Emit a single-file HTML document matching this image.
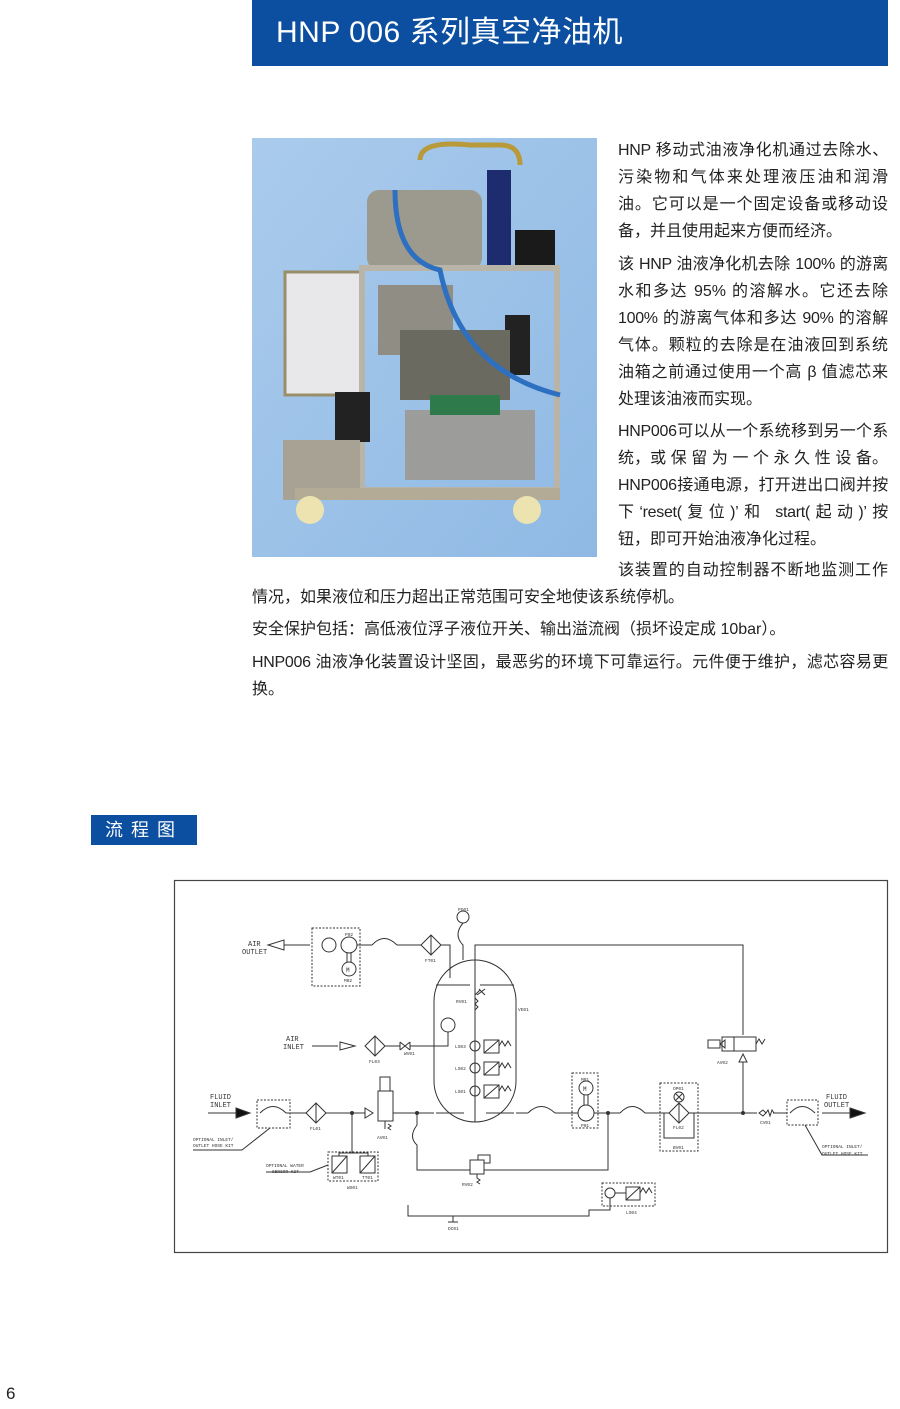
<!DOCTYPE html>
<html><head><meta charset="utf-8">
<style>
body{margin:0;width:900px;height:1409px;background:#fff;position:relative;overflow:hidden;font-family:"Liberation Sans","Noto Sans CJK SC",sans-serif;color:#222}
.t{position:absolute;font-size:16px;line-height:27px;white-space:nowrap}
.j{width:270px;text-align:justify;text-align-last:justify;white-space:normal;overflow:hidden;height:27px}
.w{width:636px}
.c{letter-spacing:-0.3px}
</style></head><body>
<div style="position:absolute;left:252px;top:0;width:636px;height:66px;background:#0c4fa0"></div>
<div style="position:absolute;left:276px;top:13px;color:#fff;font-size:30px;line-height:40px;white-space:nowrap;letter-spacing:0.5px">HNP 006 系列真空净油机</div>

<svg style="position:absolute;left:0;top:0" width="900" height="1409">
<defs><linearGradient id="bg" x1="0" y1="0" x2="1" y2="1"><stop offset="0" stop-color="#aacbec"/><stop offset="1" stop-color="#8fb9e4"/></linearGradient></defs>
<rect x="252" y="138" width="345" height="419" fill="url(#bg)"/>
<rect x="367" y="190" width="115" height="80" rx="12" fill="#9c9a8e"/>
<rect x="487" y="170" width="24" height="95" fill="#1d2c6e"/>
<rect x="515" y="230" width="40" height="40" fill="#1a1a1a"/>
<rect x="285" y="272" width="78" height="123" fill="#e8e8ea" stroke="#9a8e6a" stroke-width="3"/>
<rect x="362" y="268" width="195" height="222" fill="none" stroke="#b8b4a8" stroke-width="6"/>
<rect x="378" y="285" width="75" height="70" fill="#8f8d84"/>
<rect x="505" y="315" width="25" height="60" fill="#222"/>
<rect x="335" y="392" width="35" height="50" fill="#222"/>
<rect x="400" y="330" width="110" height="70" fill="#6b6a60"/>
<rect x="405" y="410" width="130" height="70" fill="#9c9c9a"/>
<rect x="430" y="395" width="70" height="20" fill="#2e7a4a"/>
<path d="M283 440 L360 440 L360 490 L560 490 L560 500 L283 500 Z" fill="#a8a294"/>
<rect x="295" y="488" width="265" height="12" fill="#b3ab96"/>
<circle cx="310" cy="510" r="14" fill="#ede3b0"/><circle cx="527" cy="510" r="14" fill="#ede3b0"/>
<path d="M395 190 Q395 260 440 270 Q460 370 560 395" fill="none" stroke="#2d6fc0" stroke-width="5"/>
<path d="M420 160 Q420 140 470 145 L500 145 Q520 145 520 165" fill="none" stroke="#b89a3a" stroke-width="5"/>
</svg>

<div class="t j c" style="left:618px;top:137px">HNP 移动式油液净化机通过去除水、</div>
<div class="t j" style="left:618px;top:164px">污染物和气体来处理液压油和润滑</div>
<div class="t j" style="left:618px;top:191px">油。它可以是一个固定设备或移动设</div>
<div class="t" style="left:618px;top:218px">备，并且使用起来方便而经济。</div>
<div class="t j c" style="left:618px;top:251px">该 HNP 油液净化机去除 100% 的游离</div>
<div class="t j" style="left:618px;top:278px">水和多达 95% 的溶解水。它还去除</div>
<div class="t j c" style="left:618px;top:305px">100% 的游离气体和多达 90% 的溶解</div>
<div class="t j" style="left:618px;top:332px">气体。颗粒的去除是在油液回到系统</div>
<div class="t j" style="left:618px;top:359px">油箱之前通过使用一个高 β 值滤芯来</div>
<div class="t" style="left:618px;top:386px">处理该油液而实现。</div>
<div class="t j c" style="left:618px;top:418px">HNP006可以从一个系统移到另一个系</div>
<div class="t j" style="left:618px;top:445px">统，或 保 留 为 一 个 永 久 性 设 备。</div>
<div class="t j c" style="left:618px;top:472px">HNP006接通电源，打开进出口阀并按</div>
<div class="t j c" style="left:618px;top:499px">下‘reset(复位)’和 start(起动)’按</div>
<div class="t" style="left:618px;top:526px">钮，即可开始油液净化过程。</div>
<div class="t j" style="left:618px;top:557px">该装置的自动控制器不断地监测工作</div>
<div class="t" style="left:252px;top:584px">情况，如果液位和压力超出正常范围可安全地使该系统停机。</div>
<div class="t" style="left:252px;top:616px">安全保护包括：高低液位浮子液位开关、输出溢流阀（损坏设定成 10bar）。</div>
<div class="t j w c" style="left:252px;top:649px">HNP006 油液净化装置设计坚固，最恶劣的环境下可靠运行。元件便于维护，滤芯容易更</div>
<div class="t" style="left:252px;top:676px">换。</div>

<div style="position:absolute;left:91px;top:815px;width:106px;height:30px;background:#0c4fa0;color:#fff;font-size:18px;line-height:30px;text-align:center;letter-spacing:8px">流程图</div>

<svg style="position:absolute;left:0;top:0" width="900" height="1409" font-family="Liberation Mono,monospace" font-size="5" fill="none" stroke="#333" stroke-width="1">
<rect x="174.5" y="880.5" width="713" height="372" stroke="#444" stroke-width="1.2"/>
<g fill="#333" stroke="none" font-size="7">
<text x="248" y="946">AIR</text><text x="242" y="954">OUTLET</text>
<text x="286" y="1041">AIR</text><text x="283" y="1049">INLET</text>
<text x="210" y="1099">FLUID</text><text x="210" y="1107">INLET</text>
<text x="826" y="1099">FLUID</text><text x="824" y="1107">OUTLET</text>
</g>
<g fill="#333" stroke="none" font-size="4.5">
<text x="345" y="936">P02</text><text x="344" y="982">M02</text><text x="425" y="962">FT01</text>
<text x="458" y="911">PG01</text><text x="456" y="1003">RV01</text><text x="518" y="1011">VE01</text>
<text x="455" y="1048">LS03</text><text x="455" y="1070">LS02</text><text x="455" y="1093">LS01</text>
<text x="369" y="1063">FL03</text><text x="404" y="1055">WV01</text>
<text x="310" y="1130">FL01</text><text x="377" y="1139">AV01</text>
<text x="193" y="1141">OPTIONAL INLET/</text><text x="193" y="1147">OUTLET HOSE KIT</text>
<text x="266" y="1167">OPTIONAL WATER</text><text x="272" y="1173">SENSOR KIT</text>
<text x="333" y="1179">WT01</text><text x="362" y="1179">TT01</text><text x="347" y="1189">WS01</text>
<text x="462" y="1186">RV02</text><text x="448" y="1230">DC01</text>
<text x="581" y="1081">M01</text><text x="581" y="1127">P01</text>
<text x="673" y="1090">OP01</text><text x="673" y="1129">FL02</text><text x="673" y="1149">BV01</text>
<text x="760" y="1124">CV01</text><text x="717" y="1064">AV02</text><text x="626" y="1214">LS04</text>
<text x="822" y="1148">OPTIONAL INLET/</text><text x="822" y="1155">OUTLET HOSE KIT</text>
</g>
<path d="M268 945 L284 940 L284 950 Z"/><path d="M284 945 H310"/>
<rect x="312" y="928" width="48" height="58" stroke-dasharray="2,1.5"/>
<circle cx="329" cy="945" r="7"/><circle cx="349" cy="945" r="8"/><circle cx="349" cy="969" r="7"/>
<path d="M347 953 V962 M351 953 V962"/><text x="346" y="972" fill="#333" stroke="none" font-size="6">M</text>
<path d="M357 945 H372 M397 945 H421"/><path d="M372 945 Q384 932 397 945"/>
<path d="M431 935 L441 945 L431 955 L421 945 Z M431 935 V955" />
<path d="M441 945 H450 V978"/>
<circle cx="463" cy="917" r="6"/><path d="M463 923 Q453 935 463 945 V960"/>
<path d="M475 1122 V945 H743 V1035"/>
<rect x="434" y="960" width="82" height="162" rx="41"/>
<path d="M436 985 H470 M480 985 H514 M436 1113 H464 M486 1113 H514"/>
<path d="M475 995 L480 990 M477 995 l8 -6 m0 6 l-6 -6"/>
<path d="M475 998 l3 3 l-3 3 l3 3 l-3 3"/>
<circle cx="448" cy="1025" r="7"/><path d="M448 1032 V1046 H410"/>
<g><circle cx="475" cy="1046" r="5"/><rect x="484" y="1040" width="15" height="13"/><path d="M484 1053 L499 1040 M499 1046 l3 -5 l3 5 l3 -5 l3 5"/></g>
<g><circle cx="475" cy="1068" r="5"/><rect x="484" y="1062" width="15" height="13"/><path d="M484 1075 L499 1062 M499 1068 l3 -5 l3 5 l3 -5 l3 5"/></g>
<g><circle cx="475" cy="1091" r="5"/><rect x="484" y="1085" width="15" height="13"/><path d="M484 1098 L499 1085 M499 1091 l3 -5 l3 5 l3 -5 l3 5"/></g>
<path d="M312 1046 H338 M340 1042 L355 1046 L340 1050 Z"/>
<path d="M375 1036 L385 1046 L375 1056 L365 1046 Z M375 1036 V1056 M385 1046 H400"/>
<path d="M400 1042 L410 1050 M400 1050 L410 1042 M400 1042 V1050 M410 1042 V1050"/>
<path d="M208 1113 H236"/><path d="M236 1108 L250 1113 L236 1118 Z" fill="#111"/>
<rect x="257" y="1100" width="33" height="28" stroke-dasharray="2,1.5"/>
<path d="M260 1113 Q273 1100 286 1113 M286 1113 H306 M326 1113 H365"/>
<path d="M316 1103 L326 1113 L316 1123 L306 1113 Z M316 1103 V1123"/>
<path d="M270 1128 L242 1150 H193"/>
<path d="M352 1113 V1153"/><rect x="328" y="1152" width="50" height="29" stroke-dasharray="2,1.5"/>
<rect x="332" y="1156" width="15" height="17"/><rect x="360" y="1156" width="15" height="17"/>
<path d="M332 1173 L347 1156 M360 1173 L375 1156 M339 1156 V1153 H368 V1156 M328 1165 L310 1172 H266"/>
<path d="M365 1108 L373 1113 L365 1118 Z"/>
<rect x="378" y="1091" width="15" height="30"/><rect x="380" y="1077" width="10" height="14"/>
<path d="M393 1113 H434 M385 1121 v8 M388 1124 l3 2 l-3 2 l3 2"/>
<path d="M417 1113 V1125 Q408 1137 417 1145 V1170 H470 M484 1170 H608 V1113"/>
<rect x="470" y="1160" width="14" height="14"/><path d="M484 1163 H490 V1155 H478 V1160 M477 1174 v4 l3 2 l-3 2 l3 2"/>
<path d="M516 1113 H528 M555 1113 H578 M594 1113 H620 M645 1113 H669 M689 1113 H757 M773 1113 H787"/>
<path d="M528 1113 Q541 1100 555 1113 M620 1113 Q632 1100 645 1113"/>
<rect x="572" y="1073" width="26" height="55" stroke-dasharray="2,1.5"/>
<circle cx="586" cy="1113" r="8"/><circle cx="586" cy="1088" r="7"/><path d="M584 1095 V1105 M588 1095 V1105"/>
<text x="583" y="1091" fill="#333" stroke="none" font-size="6">M</text>
<rect x="660" y="1083" width="38" height="68" stroke-dasharray="2,1.5"/>
<circle cx="679" cy="1097" r="5"/><path d="M676 1094 l6 6 m0 -6 l-6 6"/>
<path d="M679 1103 L689 1113 L679 1123 L669 1113 Z M679 1103 V1123 M664 1113 V1138 H694 V1113"/>
<circle cx="743" cy="1113" r="1.5" fill="#333"/><circle cx="608" cy="1113" r="1.5" fill="#333"/><circle cx="352" cy="1113" r="1.5" fill="#333"/><circle cx="417" cy="1113" r="1.5" fill="#333"/>
<path d="M743 1113 V1062 M739 1062 L743 1054 L747 1062 Z"/>
<rect x="722" y="1037" width="12" height="14"/><rect x="734" y="1037" width="22" height="14"/>
<path d="M708 1040 H720 V1048 H708 Z M720 1044 l5 -4 v8 Z M756 1044 l3 -5 l3 5 l3 -5"/>
<path d="M759 1113 l4 -3 l3 3 l-3 3 Z M766 1113 l2 -3 l2 6 l2 -6 l2 3"/>
<rect x="787" y="1100" width="31" height="25" stroke-dasharray="2,1.5"/>
<path d="M790 1113 Q802 1100 815 1113 M822 1113 H850 M805 1125 L822 1155 H868"/>
<path d="M850 1108 L865 1113 L850 1118 Z" fill="#111"/>
<rect x="602" y="1183" width="53" height="23" stroke-dasharray="2,1.5"/>
<circle cx="610" cy="1193" r="5"/><rect x="626" y="1187" width="14" height="13"/>
<path d="M615 1193 H626 M626 1200 L640 1187 M640 1193 l3 -5 l3 5 l3 -5 l3 5"/>
<path d="M408 1205 V1216 H589 V1210 H610 V1198 M453 1216 V1222 M448 1222 H458"/>
</svg>

<div style="position:absolute;left:6px;top:1384px;font-size:17px">6</div>
</body></html>
